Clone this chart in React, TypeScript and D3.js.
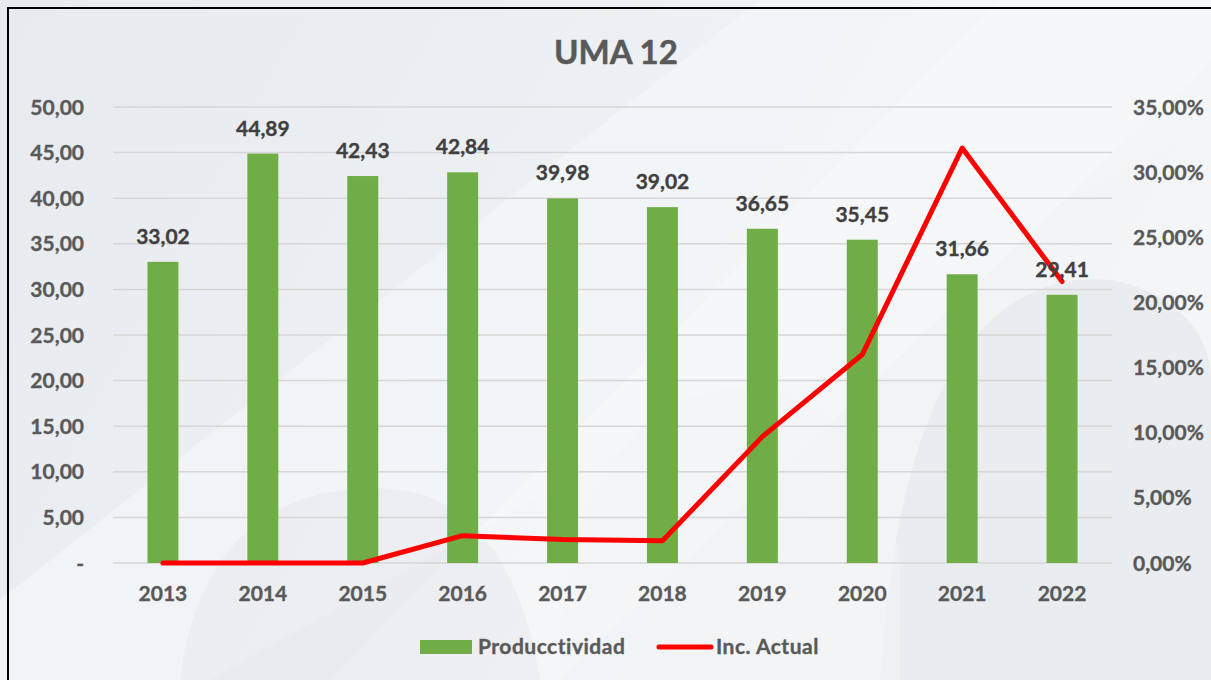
import React from "react";
import * as d3 from "d3";

const years = ["2013", "2014", "2015", "2016", "2017", "2018", "2019", "2020", "2021", "2022"];
const productividad = [33.02, 44.89, 42.43, 42.84, 39.98, 39.02, 36.65, 35.45, 31.66, 29.41];
const incActual = [0.0, 0.0, 0.0, 2.1, 1.8, 1.7, 9.7, 16.0, 31.85, 21.6];
const leftTicks = [0, 5, 10, 15, 20, 25, 30, 35, 40, 45, 50];
const rightTicks = [0, 5, 10, 15, 20, 25, 30, 35];
const title = "UMA 12";
const seriesNames = ["Producctividad", "Inc. Actual"];

const W = 1211;
const H = 680;
const left = 113;
const right = 1112;
const top = 107;
const bottom = 563;
const FONT = "Lato, 'Open Sans', sans-serif";
const FS = 21;

const fmt = (v: number) => (v === 0 ? "-" : v.toFixed(2).replace(".", ","));
const fmtPct = (v: number) => v.toFixed(2).replace(".", ",") + "%";

export default function App() {
  const x = d3.scaleBand<string>().domain(years).range([left, right]).paddingInner(0.69).paddingOuter(0.345);
  const y = d3.scaleLinear().domain([0, 50]).range([bottom, top]);
  const y2 = d3.scaleLinear().domain([0, 35]).range([bottom, top]);
  const cx = (d: string) => (x(d) as number) + x.bandwidth() / 2;
  const line = d3
    .line<number>()
    .x((_, i) => cx(years[i]))
    .y((d) => y2(d));

  const txt = { fontFamily: FONT, fontWeight: 700, fontSize: FS, fill: "#595959", stroke: "#595959", strokeWidth: 0.35 } as const;

  return (
    <svg width={W} height={H} style={{ position: "absolute", left: 0, top: 0 }}>
      <defs>
        <linearGradient id="bg" x1="0" y1="0" x2="1" y2="0.3">
          <stop offset="0" stopColor="#E7EAEE" />
          <stop offset="0.55" stopColor="#EEF1F4" />
          <stop offset="1" stopColor="#F3F5F7" />
        </linearGradient>
      </defs>
      <rect x={0} y={0} width={W} height={H} fill="url(#bg)" />
      {/* decorative shapes */}
      <path d="M 760 0 L 1211 0 L 1211 120 L 210 680 L 0 680 L 0 600 Z" fill="#F4F6F8" opacity={0.7} />
      <path d="M 1000 0 L 1211 0 L 1211 60 L 560 680 L 330 680 Z" fill="#F7F8FA" opacity={0.6} />
      <path d="M 880 680 C 900 360, 1000 270, 1110 280 C 1170 290, 1211 330, 1211 380 L 1211 680 Z" fill="#E6E9ED" opacity={0.7} />
      <path d="M 560 680 C 560 470, 650 380, 760 390 C 840 400, 880 470, 900 560 L 900 680 Z" fill="#F2F4F6" opacity={0.55} />
      <path d="M 180 680 C 200 520, 300 480, 400 490 C 470 500, 520 560, 540 680 Z" fill="#E5E8EC" opacity={0.5} />
      <rect x={8} y={8} width={W + 10} height={H + 10} fill="none" stroke="#000" strokeWidth={2} />

      {/* gridlines */}
      {leftTicks.map((t) => (
        <line key={"g" + t} x1={left} x2={right} y1={y(t)} y2={y(t)} stroke="#D6D6D6" strokeWidth={1.5} />
      ))}

      {/* title */}
      <text x={616} y={64} textAnchor="middle" {...txt} fontSize={33} strokeWidth={0.5}>
        {title}
      </text>

      {/* left axis */}
      {leftTicks.map((t) => (
        <text key={"l" + t} x={84} y={y(t)} dy="0.36em" textAnchor="end" {...txt}>
          {fmt(t)}
        </text>
      ))}
      {/* right axis */}
      {rightTicks.map((t) => (
        <text key={"r" + t} x={1133} y={y2(t)} dy="0.36em" textAnchor="start" {...txt}>
          {fmtPct(t)}
        </text>
      ))}
      {/* x axis labels */}
      {years.map((yr) => (
        <text key={"x" + yr} x={cx(yr)} y={601} textAnchor="middle" {...txt}>
          {yr}
        </text>
      ))}

      {/* bars */}
      {productividad.map((v, i) => (
        <rect key={"b" + i} x={x(years[i])} y={y(v)} width={x.bandwidth()} height={bottom - y(v)} fill="#70AD47" />
      ))}

      {/* line */}
      <path d={line(incActual) || ""} fill="none" stroke="#FF0000" strokeWidth={5} strokeLinejoin="round" strokeLinecap="round" />

      {/* data labels */}
      {productividad.map((v, i) => (
        <text key={"d" + i} x={cx(years[i])} y={y(v) - 18} textAnchor="middle" {...txt} fill="#404040" stroke="#404040">
          {fmt(v)}
        </text>
      ))}

      {/* legend */}
      <rect x={420} y={640} width={52} height={14} fill="#70AD47" />
      <text x={478} y={654} {...txt} letterSpacing={0.5}>
        {seriesNames[0]}
      </text>
      <line x1={659} x2={711} y1={647} y2={647} stroke="#FF0000" strokeWidth={5} strokeLinecap="round" />
      <text x={716} y={654} {...txt} letterSpacing={0.5}>
        {seriesNames[1]}
      </text>
    </svg>
  );
}
